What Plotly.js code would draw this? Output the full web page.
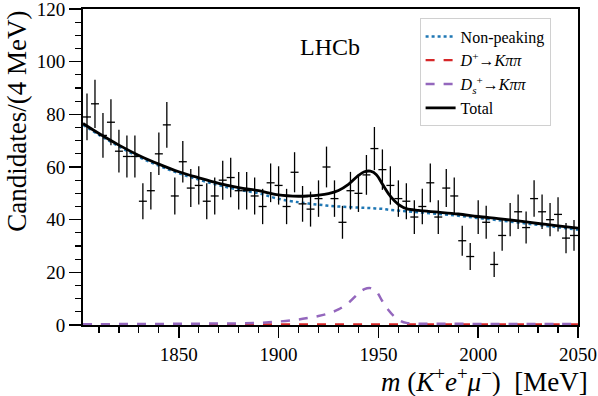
<!DOCTYPE html>
<html>
<head>
<meta charset="utf-8">
<script src="https://cdn.plot.ly/plotly-3.0.1.min.js"></script>
<style>
  body { margin: 0; background: white; }
  #chart { width: 598px; height: 396px; }
</style>
</head>
<body>
<div id="chart"></div>
<script>
// binned data, 4 MeV bins
var binCentres = [1804, 1808, 1812, 1816, 1820, 1824, 1828, 1832, 1836, 1840,
                  1844, 1848, 1852, 1856, 1860, 1864, 1868, 1872, 1876, 1880,
                  1884, 1888, 1892, 1896, 1900, 1904, 1908, 1912, 1916, 1920,
                  1924, 1928, 1932, 1936, 1940, 1944, 1948, 1952, 1956, 1960,
                  1964, 1968, 1972, 1976, 1980, 1984, 1988, 1992, 1996, 2000,
                  2004, 2008, 2012, 2016, 2020, 2024, 2028, 2032, 2036, 2040,
                  2044, 2048];
var counts = [79, 84, 72, 77, 66, 64, 64, 47, 51, 65,
              76, 49, 62, 52, 53, 47, 49, 55, 56, 51,
              51, 49, 45, 54, 53, 45, 58, 46, 44, 48,
              60, 48, 39, 51, 50, 57, 67, 59, 53, 48,
              47, 41, 45, 54, 41, 52, 49, 32, 26, 41,
              39, 23, 34, 40, 43, 37, 48, 43, 40, 42,
              33, 34];

// fit components
var curveX = [1802, 1810, 1820, 1830, 1840, 1850, 1860, 1870, 1880, 1890,
              1900, 1910, 1915, 1920, 1925, 1930, 1935, 1940, 1943, 1946,
              1949, 1952, 1955, 1958, 1961, 1964, 1970, 1980, 1990, 2000,
              2010, 2020, 2030, 2040, 2050];
var nonPeaking = [76.0, 72.2, 67.8, 63.8, 60.5, 57.6, 55.2, 53.1, 51.4, 50.0,
                  47.9, 46.6, 46.1, 45.7, 45.3, 45.0, 44.8, 44.6, 44.5, 44.4,
                  44.2, 44.1, 43.8, 43.6, 43.4, 43.2, 42.8, 42.2, 41.5, 40.6,
                  39.8, 38.9, 38.0, 37.1, 36.2];
var dplus = [0.2, 0.2, 0.2, 0.2, 0.2, 0.2, 0.2, 0.2, 0.2, 0.2,
             0.2, 0.2, 0.2, 0.2, 0.2, 0.2, 0.2, 0.2, 0.2, 0.2,
             0.2, 0.2, 0.2, 0.2, 0.2, 0.2, 0.2, 0.2, 0.2, 0.2,
             0.2, 0.2, 0.2, 0.2, 0.2];
var dsplus = [0.3, 0.3, 0.35, 0.4, 0.4, 0.45, 0.5, 0.55, 0.6, 0.8,
              1.3, 2.1, 2.7, 3.4, 4.4, 5.9, 8.4, 12.0, 13.6, 14.0,
              12.7, 9.0, 5.7, 3.2, 1.6, 0.8, 0.5, 0.45, 0.45, 0.4,
              0.4, 0.4, 0.35, 0.35, 0.35];
var total = [76.5, 72.7, 68.3, 64.4, 61.1, 58.2, 55.9, 53.8, 52.2, 51.0,
             49.4, 48.9, 49.0, 49.3, 49.9, 51.1, 53.4, 56.8, 58.2, 58.4,
             57.1, 53.5, 49.9, 47.2, 45.3, 44.2, 43.5, 42.85, 42.15, 41.2,
             40.4, 39.5, 38.55, 37.65, 36.75];
var yTicks = [0, 20, 40, 60, 80, 100, 120];

var serif = 'Liberation Serif';

var data = [
  {
    x: curveX, y: nonPeaking, mode: 'lines', name: 'Non-peaking',
    line: {color: '#1f77b4', width: 2.5, dash: 'dot', shape: 'spline'}
  },
  {
    x: curveX, y: dplus, mode: 'lines', name: '<i>D</i><sup>+</sup>\u2192<i>K\u03c0\u03c0</i>',
    line: {color: '#d62728', width: 2.2, dash: 'dash', shape: 'spline'}
  },
  {
    x: curveX, y: dsplus, mode: 'lines', name: '<i>D</i><sub><i>s</i></sub><sup>+</sup>\u2192<i>K\u03c0\u03c0</i>',
    line: {color: '#9467bd', width: 2.5, dash: 'dash', shape: 'spline'}
  },
  {
    x: curveX, y: total, mode: 'lines', name: 'Total',
    line: {color: 'black', width: 2.8, shape: 'spline'}
  },
  {
    x: binCentres, y: counts, mode: 'markers', showlegend: false,
    marker: {size: 1, color: 'black'},
    error_x: {type: 'constant', value: 2, width: 0, thickness: 1.3, color: 'black'},
    error_y: {type: 'sqrt', width: 0, thickness: 1.3, color: 'black'}
  }
];

var layout = {
  width: 598, height: 396,
  margin: {l: 83, r: 20, t: 9, b: 71},
  paper_bgcolor: 'white', plot_bgcolor: 'white',
  font: {family: serif, color: 'black'},
  showlegend: true,
  legend: {
    x: 0.68, y: 0.97, xanchor: 'left', yanchor: 'top',
    bgcolor: 'white', bordercolor: '#d0d0d0', borderwidth: 1,
    font: {family: serif, size: 16, color: 'black'},
    traceorder: 'normal'
  },
  xaxis: {
    range: [1802, 2050], showgrid: false, zeroline: false,
    showline: true, linecolor: 'black', linewidth: 2, mirror: true,
    ticks: 'outside', ticklen: 11, tickwidth: 1.5, tickcolor: 'black',
    tick0: 1850, dtick: 50, ticklabeloverflow: 'allow',
    minor: {dtick: 10, ticklen: 6, tickwidth: 1.2, tickcolor: 'black', ticks: 'outside'},
    tickfont: {family: serif, size: 19, color: 'black'}
  },
  yaxis: {
    range: [0, 120], showgrid: false, zeroline: false,
    showline: true, linecolor: 'black', linewidth: 2, mirror: true,
    ticks: 'outside', ticklen: 12, tickwidth: 1.5, tickcolor: 'black',
    tickmode: 'array', tickvals: yTicks, ticklabeloverflow: 'allow',
    minor: {dtick: 5, ticklen: 6, tickwidth: 1.2, tickcolor: 'black', ticks: 'outside'},
    tickfont: {family: serif, size: 19, color: 'black'}
  },
  annotations: [
    {
      text: 'LHCb', x: 1925.8, y: 105.7, xref: 'x', yref: 'y',
      showarrow: false, font: {family: serif, size: 24, color: 'black'}
    },
    {
      text: 'Candidates/(4 MeV)', xref: 'paper', yref: 'paper',
      x: -0.135, y: 1.0, xanchor: 'center', yanchor: 'top', textangle: -90,
      showarrow: false, font: {family: serif, size: 27, color: 'black'}
    },
    {
      text: '<i>m</i> (<i>K</i><sup>+</sup><i>e</i><sup>+</sup><i>\u03bc</i><sup>\u2212</sup>)  [MeV]',
      xref: 'paper', yref: 'paper', x: 1.024, y: -0.174,
      xanchor: 'right', yanchor: 'middle',
      showarrow: false, font: {family: serif, size: 27, color: 'black'}
    }
  ]
};

Plotly.newPlot('chart', data, layout, {staticPlot: true});
</script>
</body>
</html>
